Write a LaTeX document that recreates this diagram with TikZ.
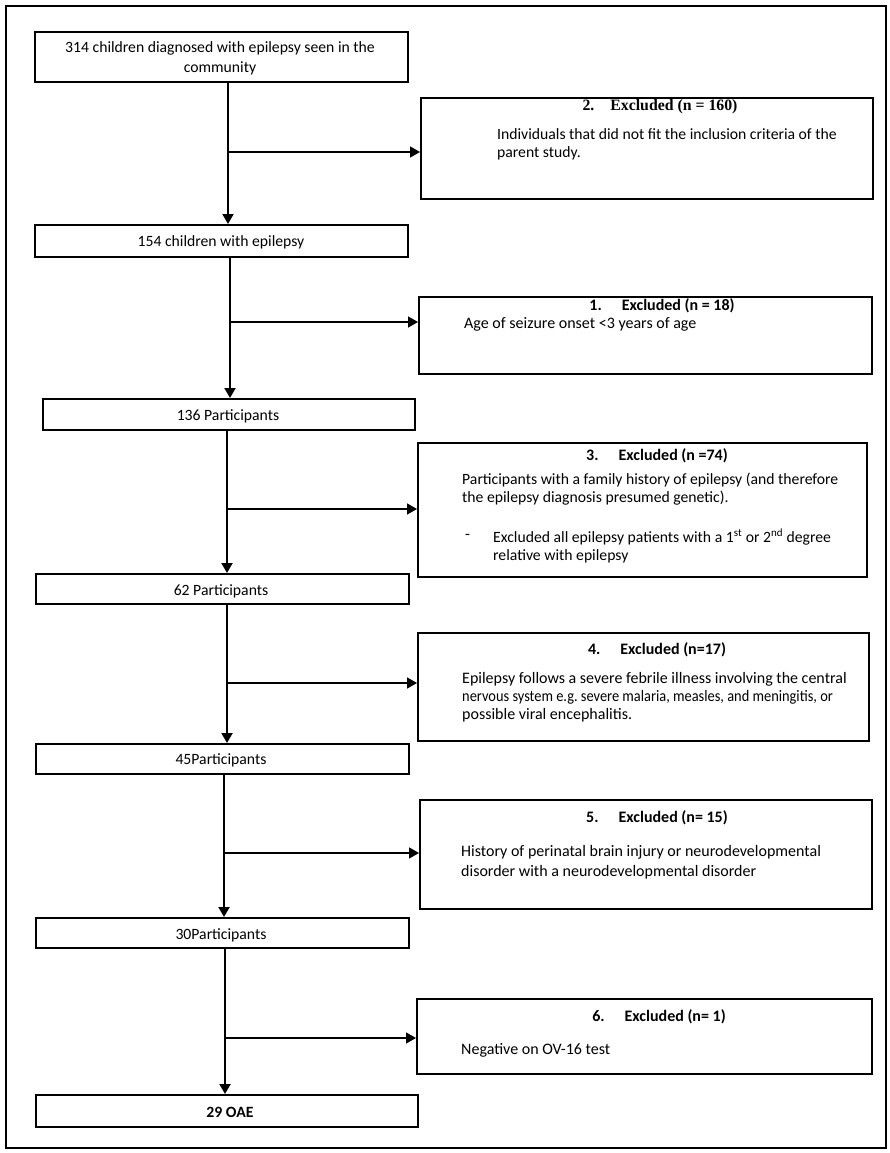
\documentclass[tikz,border=0pt]{standalone}
\usepackage{fontspec}
\usepackage{graphicx}
\setmainfont{Carlito}
\newfontfamily\tnr{Liberation Serif}
\usetikzlibrary{arrows.meta}
\begin{document}
\frenchspacing
\begin{tikzpicture}[x=1pt,y=-1pt,
  box/.style={draw, line width=1.6pt, anchor=north west, inner sep=0pt},
  mtxt/.style={font=\fontsize{15.7}{20}\selectfont, align=center, inner sep=0pt},
  ttl/.style={font=\fontsize{16}{18}\selectfont\bfseries, inner sep=0pt},
  body/.style={font=\fontsize{16}{18}\selectfont, align=left, anchor=west, inner sep=0pt},
  vline/.style={line width=2pt, -{Triangle[length=10pt,width=11pt]}},
  hline/.style={line width=1.4pt, -{Triangle[length=10pt,width=11pt]}}
]
\useasboundingbox (0,0) rectangle (890,1153);
\node[draw, line width=2.2pt, anchor=north west, inner sep=0pt, minimum width=880pt, minimum height=1142pt] (frame) at (5,5) {};

% main boxes
\node[box, minimum width=373pt, minimum height=50pt] (b1) at (34,31) {};
\node[mtxt] (t1) at (220,58) {314 children diagnosed with epilepsy seen in the\\community};
\node[box, minimum width=373pt, minimum height=32pt] (b2) at (34,224) {};
\node[mtxt] (t2) at (221,242) {154 children with epilepsy};
\node[box, minimum width=372pt, minimum height=31pt] (b3) at (42,398) {};
\node[mtxt] (t3) at (228,416) {136 Participants};
\node[box, minimum width=373pt, minimum height=30pt] (b4) at (35,573) {};
\node[mtxt] (t4) at (221,591) {62 Participants};
\node[box, minimum width=373pt, minimum height=30pt] (b5) at (35,743) {};
\node[mtxt] (t5) at (221,760) {45Participants};
\node[box, minimum width=373pt, minimum height=30pt] (b6) at (35,917) {};
\node[mtxt] (t6) at (221,935) {30Participants};
\node[box, minimum width=382pt, minimum height=32pt] (b7) at (35,1094) {};
\node[mtxt, font=\fontsize{15.7}{20}\selectfont\bfseries] (t7) at (230,1112) {29 OAE};

% excluded boxes
\node[box, minimum width=452pt, minimum height=101pt] (e2) at (420,97) {};
\node[ttl, font=\fontsize{15.8}{18}\selectfont\tnr\bfseries] (e2t) at (660,107) {2.\hspace{16pt}Excluded (n = 160)};
\node[body, font=\fontsize{15.7}{18}\selectfont] (e2b) at (497,144) {Individuals that did not fit the inclusion criteria of the\\parent study.};

\node[box, minimum width=453pt, minimum height=77pt] (e1) at (418,296) {};
\node[ttl] (e1t) at (662,306) {1.\hspace{20pt}Excluded (n = 18)};
\node[body] (e1b) at (464,324) {Age of seizure onset <3 years of age};

\node[box, minimum width=449pt, minimum height=134pt] (e3) at (417,442) {};
\node[ttl] (e3t) at (657,456) {3.\hspace{20pt}Excluded (n =74)};
\node[body, font=\fontsize{15.7}{18}\selectfont] (e3b) at (462,489) {Participants with a family history of epilepsy (and therefore\\the epilepsy diagnosis presumed genetic).};
\node[body] (e3d) at (465,537) {-};
\node[body, font=\fontsize{15.7}{18}\selectfont] (e3c) at (493,546) {Excluded all epilepsy patients with a 1\textsuperscript{st} or 2\textsuperscript{nd} degree\\relative with epilepsy};

\node[box, minimum width=451pt, minimum height=108pt] (e4) at (417,632) {};
\node[ttl] (e4t) at (657,650) {4.\hspace{20pt}Excluded (n=17)};
\node[body] (e4b) at (462,697) {Epilepsy follows a severe febrile illness involving the central\\\scalebox{0.9}[1]{nervous system e.g. severe malaria, measles, and meningitis, or}\\possible viral encephalitis.};

\node[box, minimum width=452pt, minimum height=109pt] (e5) at (419,799) {};
\node[ttl] (e5t) at (657,818) {5.\hspace{20pt}Excluded (n= 15)};
\node[body, font=\fontsize{16}{20}\selectfont] (e5b) at (461,862) {History of perinatal brain injury or neurodevelopmental\\disorder with a neurodevelopmental disorder};

\node[box, minimum width=455pt, minimum height=75pt] (e6) at (416,998) {};
\node[ttl] (e6t) at (659,1017) {6.\hspace{20pt}Excluded (n= 1)};
\node[body] (e6b) at (461,1050) {Negative on OV-16 test};

% connectors
\coordinate (j1) at (228,152);
\coordinate (j2) at (230,322);
\coordinate (j3) at (227,509);
\coordinate (j4) at (227,683);
\coordinate (j5) at (224,853);
\coordinate (j6) at (225,1038);

\draw[vline] (b1.south -| j1) -- (b2.north -| j1);
\draw[hline] (j1) -- (e2.west |- j1);
\draw[vline] (b2.south -| j2) -- (b3.north -| j2);
\draw[hline] (j2) -- (e1.west |- j2);
\draw[vline] (b3.south -| j3) -- (b4.north -| j3);
\draw[hline] (j3) -- (e3.west |- j3);
\draw[vline] (b4.south -| j4) -- (b5.north -| j4);
\draw[hline] (j4) -- (e4.west |- j4);
\draw[vline] (b5.south -| j5) -- (b6.north -| j5);
\draw[hline] (j5) -- (e5.west |- j5);
\draw[vline] (b6.south -| j6) -- (b7.north -| j6);
\draw[hline] (j6) -- (e6.west |- j6);
\end{tikzpicture}
\end{document}
